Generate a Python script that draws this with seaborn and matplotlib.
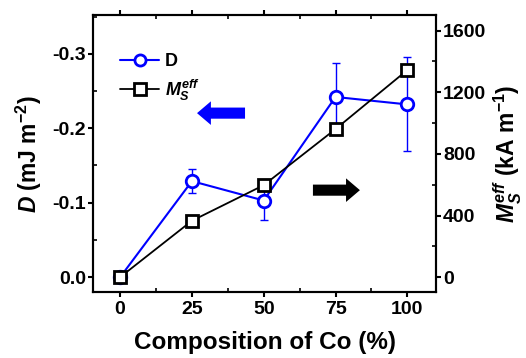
import numpy as np
import pandas as pd
import matplotlib
matplotlib.use("Agg")
import matplotlib.pyplot as plt
import seaborn as sns
from matplotlib.lines import Line2D
from matplotlib.ticker import MultipleLocator

# data
composition = [0, 25, 50, 75, 100]
dmi = [0.0, -0.129, -0.103, -0.242, -0.232]
dmi_err = [0.0, 0.016, 0.026, 0.046, 0.063]
ms_eff = [0, 366, 597, 961, 1344]

sns.set_style("ticks")
plt.rcParams['font.family'] = ['Liberation Sans', 'DejaVu Sans']
plt.rcParams['font.weight'] = 'bold'
plt.rcParams['mathtext.fontset'] = 'custom'
plt.rcParams['mathtext.rm'] = 'Liberation Sans:bold'
plt.rcParams['mathtext.it'] = 'Liberation Sans:italic:bold'
plt.rcParams['mathtext.bf'] = 'Liberation Sans:bold'
for key in ['text.color', 'axes.labelcolor', 'xtick.color', 'ytick.color', 'axes.edgecolor']:
    plt.rcParams[key] = 'black'

df = pd.DataFrame({'comp': composition, 'D': dmi, 'err': dmi_err, 'M': ms_eff})

fig = plt.figure(figsize=(5.26, 3.58), dpi=100)
ax = fig.add_axes([0.177, 0.184, 0.652, 0.774])
ax2 = ax.twinx()

blue = '#0000ff'
ax.errorbar(df['comp'], df['D'], yerr=df['err'], fmt='none', ecolor=blue,
            elinewidth=1.0, capsize=3, capthick=1.0, zorder=2)
sns.lineplot(data=df, x='comp', y='D', ax=ax, color=blue, lw=1.5,
             marker='o', markersize=9, markerfacecolor='white',
             markeredgecolor=blue, markeredgewidth=2, zorder=3)
sns.lineplot(data=df, x='comp', y='M', ax=ax2, color='black', lw=1.3,
             marker='s', markersize=9, markerfacecolor='white',
             markeredgecolor='black', markeredgewidth=2, zorder=3)

ax.set_xlim(-9.4, 110)
ax.set_ylim(0.02, -0.352)
ax2.set_ylim(-97, 1701)

ax.set_xticks(composition)
ax.xaxis.set_minor_locator(MultipleLocator(12.5))
ax.set_yticks([0.0, -0.1, -0.2, -0.3])
ax.set_yticklabels(['0.0', '-0.1', '-0.2', '-0.3'])
ax.yaxis.set_minor_locator(MultipleLocator(0.05))
ax2.set_yticks([0, 400, 800, 1200, 1600])
ax2.yaxis.set_minor_locator(MultipleLocator(200))

for a in (ax, ax2):
    for s in a.spines.values():
        s.set_visible(True)
        s.set_linewidth(1.5)
        s.set_color('black')
    a.tick_params(which='major', length=3.5, width=1.5, labelsize=14, direction='out',
                  pad=1.5, color='black', labelcolor='black')
    a.tick_params(which='minor', length=3, width=1.2, direction='in', color='black')
ax.tick_params(axis='x', which='both', top=True)
ax.tick_params(axis='x', which='major', pad=3)
for lbl in ax.get_xticklabels() + ax.get_yticklabels() + ax2.get_yticklabels():
    lbl.set_fontweight('bold')

ax.set_xlabel('Composition of Co (%)', fontsize=17.5, fontweight='bold', labelpad=9)
ax.set_ylabel('$D$ (mJ m$^{-2}$)', fontsize=16.5, fontweight='bold', labelpad=6)
ax2.set_ylabel('$M_S^{eff}$ (kA m$^{-1}$)', fontsize=16.5, fontweight='bold', labelpad=4)

handles = [
    Line2D([], [], color=blue, lw=1.5, marker='o', markersize=8,
           markerfacecolor='white', markeredgecolor=blue, markeredgewidth=2),
    Line2D([], [], color='black', lw=1.3, marker='s', markersize=8,
           markerfacecolor='white', markeredgecolor='black', markeredgewidth=2),
]
ax.legend(handles, ['D', '$M_S^{eff}$'], loc='upper left', frameon=False,
          fontsize=13, bbox_to_anchor=(0.03, 0.92), handlelength=2.2,
          handletextpad=0.3, labelspacing=0.4)

# direction arrows
arrow_kw = dict(arrowstyle='simple,head_width=1.7,head_length=1.0,tail_width=0.8',
                mutation_scale=10, shrinkA=0, shrinkB=0, lw=0)
ax.annotate('', xy=(0.303, 0.646), xytext=(0.443, 0.646), xycoords='axes fraction',
            arrowprops=dict(color=blue, **arrow_kw))
ax.annotate('', xy=(0.778, 0.368), xytext=(0.641, 0.368), xycoords='axes fraction',
            arrowprops=dict(color='black', **arrow_kw))

fig.savefig('out.png', dpi=100)
